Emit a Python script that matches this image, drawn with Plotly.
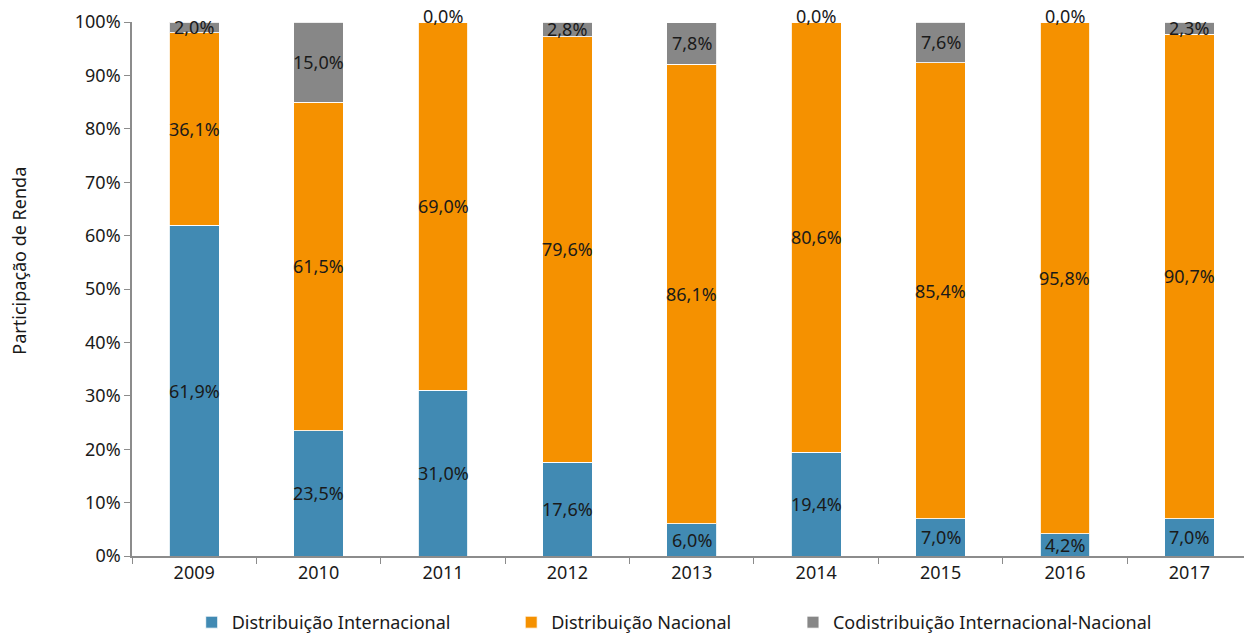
import plotly.graph_objects as go

years = ["2009", "2010", "2011", "2012", "2013", "2014", "2015", "2016", "2017"]
intl = [61.9, 23.5, 31.0, 17.6, 6.0, 19.4, 7.0, 4.2, 7.0]
nacional = [36.1, 61.5, 69.0, 79.6, 86.1, 80.6, 85.4, 95.8, 90.7]
codist = [2.0, 15.0, 0.0, 2.8, 7.8, 0.0, 7.6, 0.0, 2.3]
series_names = ["Distribuição Internacional", "Distribuição Nacional",
                "Codistribuição Internacional-Nacional"]
y_ticks = [0, 10, 20, 30, 40, 50, 60, 70, 80, 90, 100]
y_tick_labels = [f"{v}%" for v in y_ticks]

colors = ["#418AB3", "#F59100", "#878787"]
FONT = "Noto Sans"
TXT = "#1a1a1a"
FS = 18

fig = go.Figure()
series = [intl, nacional, codist]
legend_ids = ["legend", "legend2", "legend3"]
for name, vals, col, lg in zip(series_names, series, colors, legend_ids):
    fig.add_trace(go.Bar(
        x=years, y=vals, name=name, legend=lg,
        marker=dict(color=col, line=dict(color="rgba(255,255,255,0.85)", width=1)),
        width=0.4, hoverinfo="x+y+name",
    ))

def fmt(v):
    return f"{v:.1f}".replace(".", ",") + "%"

annotations = []
base = [0.0] * len(years)
for vals in series:
    for i, v in enumerate(vals):
        yc = base[i] + v / 2
        annotations.append(dict(
            x=i, y=yc, xref="x", yref="y", text=fmt(v), showarrow=False,
            font=dict(family=FONT, size=FS, color=TXT),
            xanchor="center", yanchor="middle", yshift=6 if v == 0 else 0))
        base[i] += v

annotations.append(dict(
    x=-0.1012, y=0.554, xref="paper", yref="paper", text="Participação de Renda",
    showarrow=False, textangle=-90, font=dict(family=FONT, size=FS, color=TXT),
    xanchor="center", yanchor="middle"))

def leg(xpos):
    return dict(orientation="h", x=xpos, xanchor="left", y=-0.1245, yanchor="middle",
                font=dict(family=FONT, size=FS, color=TXT), bgcolor="rgba(0,0,0,0)")

fig.update_layout(
    barmode="stack",
    width=1244, height=634,
    margin=dict(l=132, r=0, t=22, b=78, autoexpand=False),
    plot_bgcolor="white", paper_bgcolor="white",
    font=dict(family=FONT, size=FS, color=TXT),
    showlegend=True,
    legend=leg(0.0537),
    legend2=leg(0.341),
    legend3=leg(0.5944),
    annotations=annotations,
)
fig.update_xaxes(
    type="category", range=[-0.5, len(years) - 0.561], showline=True,
    linecolor="#8c8c8c", linewidth=1.5,
    ticks="outside", tickson="boundaries", ticklen=6, tickcolor="#8c8c8c",
    showgrid=False, automargin=False, tickfont=dict(family=FONT, size=FS, color=TXT))
fig.update_yaxes(
    range=[0, 100], tickvals=y_ticks, ticktext=y_tick_labels, showline=True,
    linecolor="#8c8c8c", linewidth=1.5, ticks="outside", ticklen=6, tickcolor="#8c8c8c",
    showgrid=False, zeroline=False, automargin=False,
    tickfont=dict(family=FONT, size=FS, color=TXT))

fig.write_html("out.html", config={"displayModeBar": False},
               post_script="document.body.style.margin='0px';document.body.style.overflow='hidden';")
